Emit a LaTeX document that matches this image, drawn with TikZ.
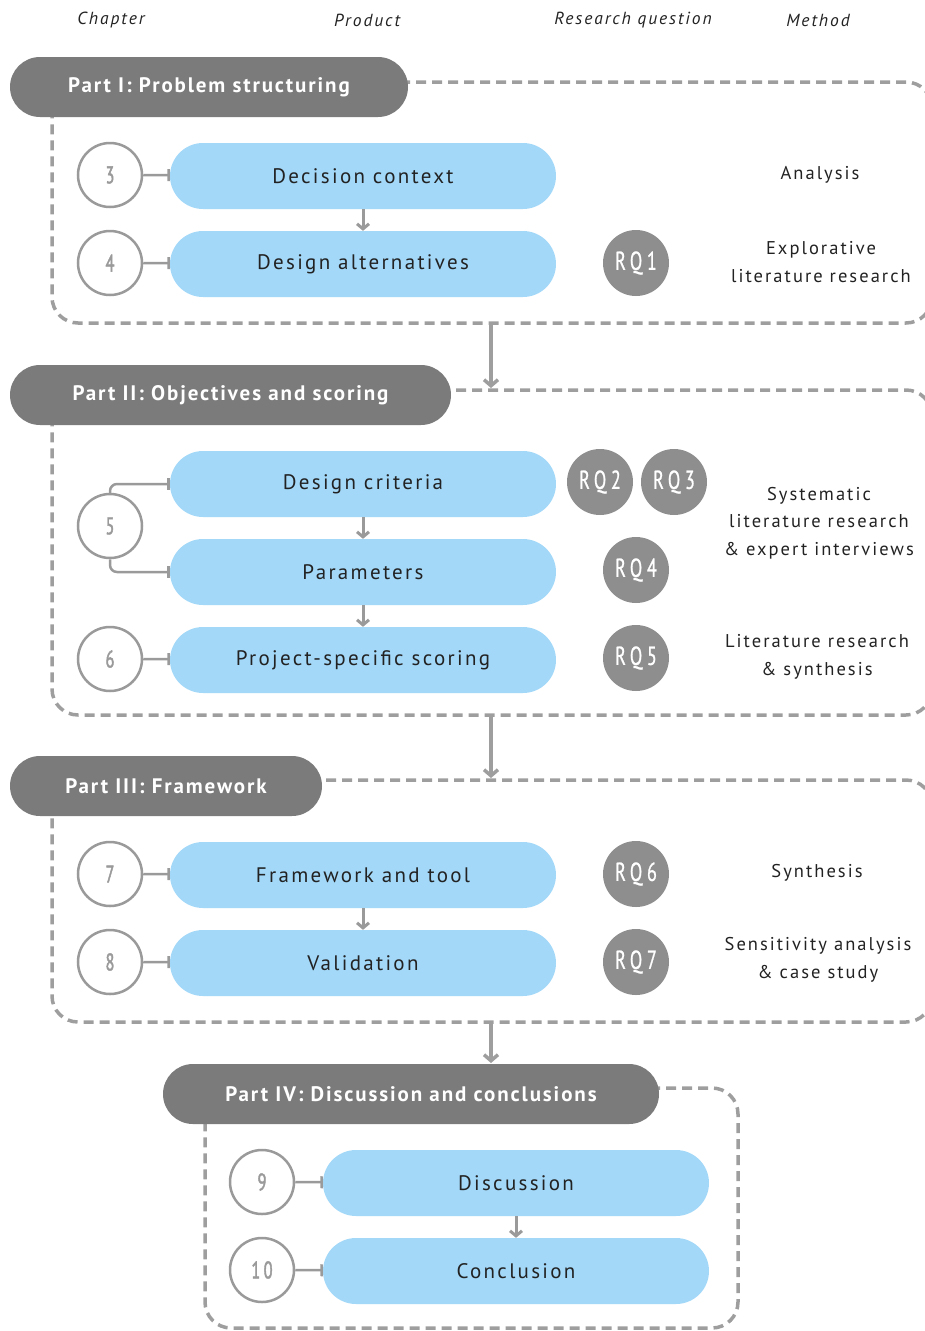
\documentclass[tikz,border=0pt]{standalone}
\usepackage{fontspec}
\setmainfont{PT Sans}
\newfontfamily\spaced[LetterSpace=11]{PT Sans}
\newfontfamily\headspaced[LetterSpace=9]{PT Sans}
\newfontfamily\cond[FakeStretch=0.7,LetterSpace=18,FakeBold=0.8]{PT Sans}
\newfontfamily\condbold[FakeStretch=0.68,LetterSpace=14,FakeBold=1.8]{PT Sans}
\usetikzlibrary{arrows.meta,calc}
\definecolor{headgray}{HTML}{7B7B7B}
\definecolor{dashgray}{HTML}{9E9E9E}
\definecolor{pillblue}{HTML}{A3D8F8}
\definecolor{rqgray}{HTML}{8E8E8E}
\definecolor{ringgray}{HTML}{9A9A9A}
\definecolor{inkdark}{HTML}{222222}
\tikzset{
  colhead/.style={font=\fontsize{17.5}{20}\selectfont\spaced\itshape, text=inkdark},
  parthead/.style={fill=headgray, rounded corners=30pt, minimum height=60pt, inner sep=0pt,
    text=white, font=\fontsize{21}{24}\selectfont\headspaced\bfseries},
  dashbox/.style={draw=dashgray, line width=3.5pt, dash pattern=on 10pt off 6pt, rounded corners=26pt},
  pill/.style={fill=pillblue, rounded corners=33pt, minimum width=386pt, minimum height=66pt,
    inner sep=0pt, text=inkdark, font=\fontsize{21}{24}\selectfont\spaced},
  chap/.style={circle, draw=ringgray, line width=2.5pt, minimum size=64pt, inner sep=0pt,
    text=ringgray, font=\fontsize{24}{28}\selectfont\condbold},
  rq/.style={circle, fill=rqgray, minimum size=66pt, inner sep=0pt, text=white,
    font=\fontsize{26}{28}\selectfont\cond},
  method/.style={align=center, text=inkdark, font=\fontsize{18.5}{27.5}\selectfont\spaced},
  tie/.style={draw=ringgray, line width=2.5pt, -{Bar[width=12pt,line width=2.5pt]}},
  seq/.style={draw=ringgray, line width=3pt, -{Straight Barb[length=5pt,width=12pt,line width=3pt]}},
  partlink/.style={draw=dashgray, line width=3.5pt, -{Straight Barb[length=6pt,width=14pt,line width=3.5pt]}},
}
\begin{document}
\begin{tikzpicture}[x=1pt,y=-1pt]
\path[use as bounding box] (0,0) rectangle (925,1331);
\clip (0,0) rectangle (925,1331);

% column headings
\node[colhead] (hc) at (111,20) {Chapter};
\node[colhead] (hp) at (367,20) {Product};
\node[colhead] (hr) at (633,20) {Research question};
\node[colhead] (hm) at (818,20) {Method};

% dashed frames of the four parts
\draw[dashbox] (400,82) -- (932,82) -- (932,323) -- (52,323) -- (52,105);
\draw[dashbox] (440,390) -- (932,390) -- (932,715) -- (52,715) -- (52,410);
\draw[dashbox] (310,780) -- (932,780) -- (932,1022) -- (52,1022) -- (52,800);
\draw[dashbox] (650,1088) -- (738,1088) -- (738,1328) -- (205,1328) -- (205,1108);

% part headings
\node[parthead, minimum width=398pt] (h1) at (209,87) {Part I: Problem structuring};
\node[parthead, minimum width=441pt] (h2) at (230.5,395) {Part II: Objectives and scoring};
\node[parthead, minimum width=312pt] (h3) at (166,786) {Part III: Framework};
\node[parthead, minimum width=496pt] (h4) at (411,1094) {Part IV: Discussion and conclusions};

% links between parts
\coordinate (b1) at (491,323); \coordinate (t2) at (491,388);
\coordinate (b2) at (491,715); \coordinate (t3) at (491,778);
\coordinate (b3) at (491,1022); \coordinate (t4) at (491,1063);
\draw[partlink] (b1) -- (t2);
\draw[partlink] (b2) -- (t3);
\draw[partlink] (b3) -- (t4);

% Part I
\node[pill] (p3) at (363,176) {Decision context};
\node[pill] (p4) at (363,264) {Design alternatives};
\node[chap] (c3) at (110,175) {3};
\node[chap] (c4) at (110,263) {4};
\draw[tie] (c3) -- (p3);
\draw[tie] (c4) -- (p4);
\draw[seq] (p3) -- (p4);
\node[rq] (rq1) at (636,263) {RQ1};
\node[method] (m1) at (820,175) {Analysis};
\node[method] (m2) at (821,262) {Explorative\\literature research};

% Part II
\node[pill] (p5a) at (363,484) {Design criteria};
\node[pill] (p5b) at (363,572) {Parameters};
\node[pill] (p6) at (363,660) {Project-specific scoring};
\node[chap] (c5) at (110,526) {5};
\node[chap] (c6) at (110,659) {6};
\draw[tie, rounded corners=7pt] (c5.north) |- (p5a.west);
\draw[tie, rounded corners=7pt] (c5.south) |- (p5b.west);
\draw[tie] (c6) -- (p6);
\draw[seq] (p5a) -- (p5b);
\draw[seq] (p5b) -- (p6);
\node[rq] (rq2) at (600,482) {RQ2};
\node[rq] (rq3) at (674,482) {RQ3};
\node[rq] (rq4) at (636,570) {RQ4};
\node[rq] (rq5) at (636,658) {RQ5};
\node[method] (m3) at (819,523) {Systematic\\literature research\\\& expert interviews};
\node[method] (m4) at (817,657) {Literature research\\\& synthesis};

% Part III
\node[pill] (p7) at (363,875) {Framework and tool};
\node[pill] (p8) at (363,963) {Validation};
\node[chap] (c7) at (110,874) {7};
\node[chap] (c8) at (110,962) {8};
\draw[tie] (c7) -- (p7);
\draw[tie] (c8) -- (p8);
\draw[seq] (p7) -- (p8);
\node[rq] (rq6) at (636,874) {RQ6};
\node[rq] (rq7) at (636,962) {RQ7};
\node[method] (m5) at (817,873) {Synthesis};
\node[method] (m6) at (818,960) {Sensitivity analysis\\\& case study};

% Part IV
\node[pill] (p9) at (516,1183) {Discussion};
\node[pill] (p10) at (516,1271) {Conclusion};
\node[chap] (c9) at (262,1182) {9};
\node[chap] (c10) at (262,1270) {10};
\draw[tie] (c9) -- (p9);
\draw[tie] (c10) -- (p10);
\draw[seq] (p9) -- (p10);
\end{tikzpicture}
\end{document}
